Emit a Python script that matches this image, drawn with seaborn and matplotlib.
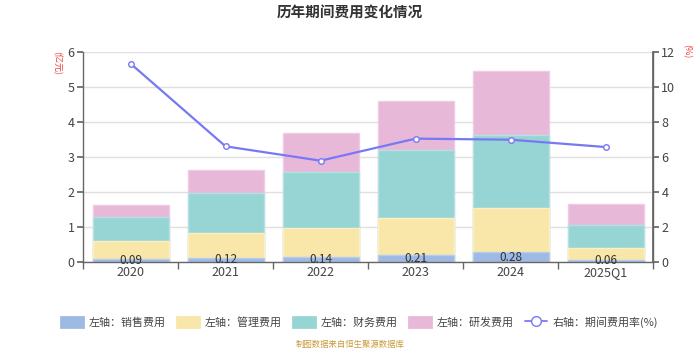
import numpy as np
import pandas as pd
import matplotlib
matplotlib.use("Agg")
import matplotlib.pyplot as plt
import seaborn as sns
from matplotlib.patches import Patch
from matplotlib.lines import Line2D

categories = ["2020", "2021", "2022", "2023", "2024", "2025Q1"]
sales = [0.09, 0.12, 0.14, 0.21, 0.28, 0.06]
mgmt = [0.50, 0.70, 0.83, 1.05, 1.27, 0.35]
finance = [0.70, 1.15, 1.60, 1.93, 2.08, 0.65]
rnd = [0.33, 0.67, 1.11, 1.41, 1.83, 0.59]
rate = [11.34, 6.61, 5.79, 7.05, 6.99, 6.57]
sales_labels = ["0.09", "0.12", "0.14", "0.21", "0.28", "0.06"]

sns.set_theme(style="white")
plt.rcParams['font.family'] = ['Noto Sans CJK SC', 'DejaVu Sans']
plt.rcParams['axes.unicode_minus'] = False

c_sales = "#9DB9E4"
c_mgmt = "#F8E7A9"
c_fin = "#97D4D4"
c_rnd = "#E8B8D8"
c_line = "#7878F5"

df = pd.DataFrame({"cat": categories, "sales": sales, "mgmt": mgmt,
                   "finance": finance, "rnd": rnd})
df["c1"] = df["sales"]
df["c2"] = df["c1"] + df["mgmt"]
df["c3"] = df["c2"] + df["finance"]
df["c4"] = df["c3"] + df["rnd"]

fig = plt.figure(figsize=(7, 3.5), dpi=100)
ax = fig.add_axes([0.1186, 0.2514, 0.8143, 0.6])

layers = [("c4", c_rnd, "#F0CBE4"), ("c3", c_fin, "#B2E2E2"),
          ("c2", c_mgmt, "#FBEFC4"), ("c1", c_sales, "#B8CDEE")]
for col, color, edge in layers:
    sns.barplot(data=df, x="cat", y=col, color=color, ax=ax, width=0.8,
                saturation=1, edgecolor=edge, linewidth=1, order=categories)

for i, (s, lab) in enumerate(zip(sales, sales_labels)):
    ax.text(i, s / 2, lab, ha="center", va="center", fontsize=8.5, color="#333333")

ax.set_ylim(0, 6)
ax.set_xlim(-0.5, 5.5)
ax.set_yticks([0, 1, 2, 3, 4, 5, 6])
ax.set_xlabel("")
ax.set_ylabel("")
ax.grid(axis="y", color="#e0e0e0", linewidth=1)
ax.set_axisbelow(True)
ax.spines["top"].set_visible(False)
for sp in ["left", "bottom", "right"]:
    ax.spines[sp].set_color("#666666")
    ax.spines[sp].set_linewidth(1)
ax.tick_params(axis="y", length=4, color="#666666", labelsize=9, labelcolor="#444444", left=True, pad=2)
ax.tick_params(axis="x", which="major", length=0, labelsize=9, labelcolor="#444444", pad=3)
ax.set_xticks(np.arange(-0.5, 6, 1), minor=True)
ax.tick_params(axis="x", which="minor", length=5, color="#666666", bottom=True)

ax2 = ax.twinx()
sns.lineplot(x=np.arange(len(categories)), y=rate, ax=ax2, color=c_line, linewidth=1.6,
             marker="o", markersize=4, markerfacecolor="white", markeredgecolor=c_line,
             markeredgewidth=1)
ax2.set_ylim(0, 12)
ax2.set_yticks([0, 2, 4, 6, 8, 10, 12])
ax2.set_xlim(-0.5, 5.5)
ax2.spines["top"].set_visible(False)
ax2.spines["left"].set_visible(False)
ax2.spines["bottom"].set_visible(False)
ax2.spines["right"].set_color("#666666")
ax2.tick_params(axis="y", length=4, color="#666666", labelsize=9, labelcolor="#444444", right=True, pad=2)
ax2.grid(False)

fig.text(0.5, 0.965, "历年期间费用变化情况", ha="center", va="center", fontsize=10.5,
         fontweight="bold", color="#333333")
fig.text(0.081, 0.82, "(亿元)", rotation=270, ha="center", va="center", fontsize=6.5, color="#E84040")
fig.text(0.980, 0.855, "(%)", rotation=270, ha="center", va="center", fontsize=6.5, color="#E84040")

handles = [Patch(facecolor=c_sales, edgecolor=c_sales, linewidth=2, joinstyle="round"),
           Patch(facecolor=c_mgmt, edgecolor=c_mgmt, linewidth=2, joinstyle="round"),
           Patch(facecolor=c_fin, edgecolor=c_fin, linewidth=2, joinstyle="round"),
           Patch(facecolor=c_rnd, edgecolor=c_rnd, linewidth=2, joinstyle="round"),
           Line2D([0], [0], color=c_line, marker="o", markerfacecolor="white",
                  markeredgecolor=c_line, markersize=7, linewidth=1.3)]
labels = ["左轴：销售费用", "左轴：管理费用", "左轴：财务费用", "左轴：研发费用", "右轴：期间费用率(%)"]
fig.legend(handles, labels, loc="center", bbox_to_anchor=(0.514, 0.08), ncol=5,
           frameon=False, fontsize=7.9, handlelength=2.0, handleheight=1.0,
           columnspacing=1.05, handletextpad=0.5, labelcolor="#444444")

fig.text(0.5, 0.016, "制图数据来自恒生聚源数据库", ha="center", va="center", fontsize=6,
         color="#C89A3A")

fig.savefig("out.png", dpi=100)
